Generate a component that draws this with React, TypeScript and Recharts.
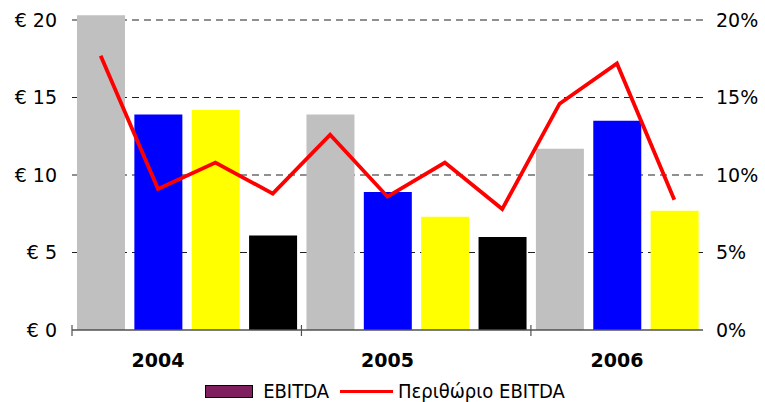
import React from "react";
import {
  ComposedChart,
  Bar,
  Line,
  Cell,
  XAxis,
  YAxis,
  CartesianGrid,
  Legend,
} from "recharts";

// one entry per bar, grouped by year
const years = ["2004", "2004", "2004", "2004", "2005", "2005", "2005", "2005", "2006", "2006", "2006"];
const ebitda = [20.3, 13.9, 14.2, 6.1, 13.9, 8.9, 7.3, 6.0, 11.7, 13.5, 7.7];
const ebitdaMargin = [17.7, 9.1, 10.8, 8.8, 12.6, 8.6, 10.8, 7.8, 14.6, 17.2, 8.4];
const barColors = ["#C0C0C0", "#0000FF", "#FFFF00", "#000000"];
const valueTicks = [0, 5, 10, 15, 20];

const data = years.map((year, i) => ({
  key: `${year}-${i}`,
  year,
  ebitda: ebitda[i],
  margin: ebitdaMargin[i],
}));

// the tallest bar pokes above the 20 gridline, so both axes run a bit past 20
const yMax = Math.max(20, ...ebitda);
const pxPerUnit = 15.5;
const plotBottom = 330;
const topMargin = plotBottom - yMax * pxPerUnit;

const FONT = "'DejaVu Sans', sans-serif";

// position of a bar inside its year group
const slotInYear = (i: number) => {
  let n = 0;
  while (i - n - 1 >= 0 && years[i - n - 1] === years[i]) n++;
  return n;
};

// grid only at the tick levels (no line on the plot's top edge)
const gridRows = ({ yAxis, offset }: any) => {
  const s = yAxis && typeof yAxis.scale === "function" ? yAxis.scale : null;
  return valueTicks
    .filter((v) => v > 0)
    .map((v) => (s ? s(v) : offset.top + offset.height * (1 - v / yMax)));
};

const YearTick = (props: any) => {
  const { x, y, payload } = props;
  const i = payload.index;
  const half = payload.offset ?? 28.6;
  const slot = slotInYear(i);
  return (
    <g>
      {/* group separator tick */}
      {slot === 0 && (
        <line x1={x - half} x2={x - half} y1={y - 5} y2={y + 6} stroke="#505050" strokeWidth={1.2} />
      )}
      {slot === 1 && (
        <text
          x={x}
          y={y + 37}
          textAnchor="middle"
          fontFamily={FONT}
          fontWeight="bold"
          fontSize={19}
          fill="#000"
        >
          {years[i]}
        </text>
      )}
    </g>
  );
};

const LegendContent = () => (
  <div
    style={{
      height: 22,
      display: "flex",
      alignItems: "center",
      justifyContent: "center",
      paddingLeft: 5,
      fontFamily: "'DejaVu Sans Condensed', 'DejaVu Sans', sans-serif",
      fontSize: 20,
      color: "#000",
    }}
  >
    <span
      style={{
        display: "inline-block",
        width: 46,
        height: 11,
        background: "#7F1F5F",
        border: "1.5px solid #000",
        marginRight: 10,
      }}
    />
    <span style={{ marginRight: 11 }}>EBITDA</span>
    <span
      style={{
        display: "inline-block",
        width: 53,
        height: 3,
        background: "#FF0000",
        marginRight: 5,
      }}
    />
    <span>Περιθώριο EBITDA</span>
  </div>
);

export default function App() {
  return (
    <div style={{ position: "absolute", left: 0, top: 0, background: "#fff" }}>
      <ComposedChart
        width={765}
        height={402}
        data={data}
        margin={{ top: topMargin, right: 0, left: 0, bottom: 0 }}
        style={{ fontFamily: FONT }}
      >
        <CartesianGrid
          yAxisId="l"
          vertical={false}
          stroke="#202020"
          strokeDasharray="7 5"
          horizontalCoordinatesGenerator={gridRows}
        />
        <XAxis
          dataKey="key"
          interval={0}
          height={50}
          tickSize={0}
          tickMargin={0}
          tickLine={false}
          axisLine={{ stroke: "#505050", strokeWidth: 1.5 }}
          tick={<YearTick />}
        />
        <YAxis
          yAxisId="l"
          width={72}
          domain={[0, yMax]}
          ticks={valueTicks}
          tickFormatter={(v) => `€ ${v}`}
          axisLine={false}
          tickLine={false}
          tickSize={0}
          tickMargin={15}
          tick={{ fill: "#000", fontSize: 19, fontFamily: FONT }}
        />
        <YAxis
          yAxisId="r"
          orientation="right"
          width={62}
          domain={[0, yMax]}
          ticks={valueTicks}
          tickFormatter={(v) => `${v}%`}
          axisLine={false}
          tickLine={false}
          tickSize={0}
          tickMargin={13}
          tick={{ fill: "#000", fontSize: 19, fontFamily: FONT }}
        />
        <Legend verticalAlign="bottom" content={<LegendContent />} />
        <Bar yAxisId="l" dataKey="ebitda" name="EBITDA" barSize={48} isAnimationActive={false}>
          {data.map((d, i) => (
            <Cell key={d.key} fill={barColors[slotInYear(i)]} />
          ))}
        </Bar>
        <Line
          yAxisId="r"
          dataKey="margin"
          name="Περιθώριο EBITDA"
          type="linear"
          stroke="#FF0000"
          strokeWidth={3.8}
          dot={false}
          isAnimationActive={false}
        />
      </ComposedChart>
    </div>
  );
}
